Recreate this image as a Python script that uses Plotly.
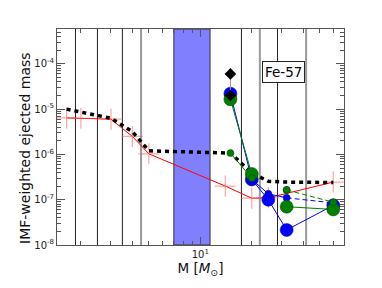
import numpy as np
import plotly.graph_objects as go

# ---- data ----
red_mass = [1.65, 2, 3, 4, 5, 14, 20, 25, 60]
red_val = [6.4e-6, 6.3e-6, 6.0e-6, 2.5e-6, 1.03e-6, 2.0e-7, 1.08e-7, 1.1e-7, 2.45e-7]

imf_mass = [1.65, 2, 3, 4, 5, 15, 20, 25, 32, 60]
imf_val = [1.0e-5, 8.7e-6, 6.3e-6, 3.2e-6, 1.2e-6, 1.07e-6, 3.9e-7, 2.55e-7, 2.45e-7, 2.4e-7]

blue_big_mass = [15, 20, 25, 32, 60]
blue_big_val = [2.2e-5, 2.8e-7, 1.0e-7, 2.15e-8, 7.5e-8]
blue_small_mass = [20, 25, 32]
blue_small_val = [2.8e-7, 1.35e-7, 1.1e-7]
blue_ext_mass = [32, 60]
blue_ext_val = [1.1e-7, 8.5e-8]

green_big_mass = [15, 20, 25, 32, 60]
green_big_val = [1.65e-5, 3.7e-7, None, 7.0e-8, 6.1e-8]
green_small_mass = [15, 20, 25, 32]
green_small_val = [1.07e-6, 3.0e-7, None, 1.64e-7]
green_ext_mass = [32, 60]
green_ext_val = [1.64e-7, 8.8e-8]

diam_mass = [15, 15]
diam_val = [6.0e-5, 2.0e-5]

black_lines = [1.86, 2.5, 3.5, 17.4, 28.3]
gray_lines = [4.5, 22.3, 41.6]
band = [7.0, 11.4]

x_range = [1.45, 69.3]
y_range = [1e-8, 10 ** -3.23]

fig = go.Figure()

shapes = []
shapes.append(dict(type="rect", xref="x", yref="paper",
                   x0=band[0], x1=band[1], y0=0, y1=1,
                   fillcolor="#8080ff", line=dict(color="#333", width=1), layer="below"))
for m in black_lines:
    shapes.append(dict(type="line", xref="x", yref="paper", x0=m, x1=m,
                       y0=0, y1=1, line=dict(color="#222", width=1), layer="below"))
for m in gray_lines:
    shapes.append(dict(type="line", xref="x", yref="paper", x0=m, x1=m,
                       y0=0, y1=1, line=dict(color="#999", width=2), layer="below"))

# red
fig.add_trace(go.Scatter(x=red_mass, y=red_val, mode="lines+markers",
                         line=dict(color="red", width=1),
                         marker=dict(symbol="cross-thin", size=15,
                                     line=dict(color="rgba(255,90,90,0.55)", width=1.2))))
# dotted black
fig.add_trace(go.Scatter(x=imf_mass, y=imf_val, mode="lines",
                         line=dict(color="black", width=3.5, dash="4px,4px")))
# blue
fig.add_trace(go.Scatter(x=blue_big_mass, y=blue_big_val, mode="lines+markers",
                         line=dict(color="blue", width=1),
                         marker=dict(size=13, color="blue", line=dict(color="#000080", width=0.5))))
fig.add_trace(go.Scatter(x=blue_small_mass, y=blue_small_val, mode="lines+markers",
                         line=dict(color="blue", width=1),
                         marker=dict(size=7, color="blue", line=dict(color="#000080", width=0.5))))
fig.add_trace(go.Scatter(x=blue_ext_mass, y=blue_ext_val, mode="lines",
                         line=dict(color="blue", width=1, dash="5px,3px")))
# green
fig.add_trace(go.Scatter(x=green_big_mass, y=green_big_val, mode="lines+markers",
                         connectgaps=False,
                         line=dict(color="#008000", width=1),
                         marker=dict(size=13, color="#008000", line=dict(color="#004000", width=0.5))))
fig.add_trace(go.Scatter(x=green_small_mass, y=green_small_val, mode="lines+markers",
                         connectgaps=False,
                         line=dict(color="#008000", width=1),
                         marker=dict(size=7, color="#008000", line=dict(color="#004000", width=0.5))))
fig.add_trace(go.Scatter(x=green_ext_mass, y=green_ext_val, mode="lines+markers",
                         line=dict(color="#008000", width=1, dash="5px,3px"),
                         marker=dict(size=7, color="#008000", line=dict(color="#004000", width=0.5))))
# diamonds
fig.add_trace(go.Scatter(x=diam_mass, y=diam_val, mode="lines+markers",
                         line=dict(color="#999", width=1),
                         marker=dict(symbol="diamond", size=9, color="black")))

fig.update_layout(
    width=374, height=280,
    margin=dict(l=49, r=38, t=21, b=43, autoexpand=False),
    paper_bgcolor="white", plot_bgcolor="white",
    showlegend=False,
    shapes=shapes,
    font=dict(family="DejaVu Sans", color="#222"),
    annotations=[
        dict(text="Fe-57", xref="paper", yref="paper", x=0.715, y=0.80,
             xanchor="left", yanchor="middle", showarrow=False,
             font=dict(size=13.5, color="black"), bgcolor="white",
             bordercolor="#222", borderwidth=1, borderpad=2),
        dict(text="IMF-weighted ejected mass", xref="paper", yref="paper",
             x=-0.083, xshift=-8, y=0.45, xanchor="center", yanchor="middle", textangle=-90,
             showarrow=False, font=dict(size=14, color="#111")),
    ],
)
fig.update_xaxes(type="log", range=[np.log10(x_range[0]), np.log10(x_range[1])],
                 automargin=False,
                 tickvals=[10], ticktext=["10<sup>1</sup>"],
                 ticks="inside", ticklen=8, tickcolor="#555", tickwidth=1,
                 minor=dict(tickvals=[2, 3, 4, 5, 6, 7, 8, 9, 20, 30, 40, 50, 60],
                            ticks="inside", ticklen=4, tickcolor="#555"),
                 showline=True, linecolor="#555", linewidth=1, mirror="allticks",
                 showgrid=False, zeroline=False, tickfont=dict(size=10),
                 title=dict(text="M [<i>M</i><sub>⊙</sub>]", font=dict(size=13.5, color="#111"), standoff=4))
ydec = [1e-8, 1e-7, 1e-6, 1e-5, 1e-4]
ymin = [k * d for d in [1e-8, 1e-7, 1e-6, 1e-5, 1e-4] for k in range(2, 10)]
fig.update_yaxes(type="log", range=[np.log10(y_range[0]), np.log10(y_range[1])],
                 automargin=False,
                 tickvals=ydec, ticktext=["10<sup>-8</sup>", "10<sup>-7</sup>", "10<sup>-6</sup>",
                                          "10<sup>-5</sup>", "10<sup>-4</sup>"],
                 ticks="inside", ticklen=8, tickcolor="#555", tickwidth=1,
                 minor=dict(tickvals=ymin, ticks="inside", ticklen=4, tickcolor="#555"),
                 showline=True, linecolor="#555", linewidth=1, mirror="allticks",
                 showgrid=False, zeroline=False, tickfont=dict(size=10))

fig.write_html("out.html")
